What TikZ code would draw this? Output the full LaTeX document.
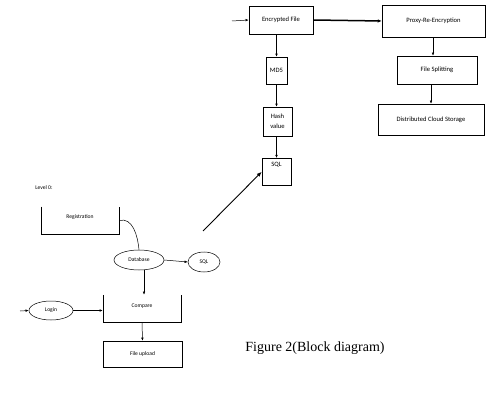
\documentclass[tikz,border=0pt]{standalone}
\usepackage{fontspec}
\setmainfont{Carlito}
\newfontfamily\captionfont{Liberation Serif}
\usetikzlibrary{arrows.meta,shapes.geometric,calc}

\tikzset{
	blockbox/.style={draw, inner sep=0pt, font=\fontsize{6.6}{7.6}\selectfont, align=center},
	openbox/.style={inner sep=0pt, font=\fontsize{5.6}{6.6}\selectfont},
	oval/.style={draw, ellipse, inner sep=0pt, font=\fontsize{5.6}{6.6}\selectfont},
	>={Latex[length=3.2pt,width=2.6pt]}
}

\begin{document}
\begin{tikzpicture}[x=1pt,y=-1pt,line width=0.5pt]
		\useasboundingbox (0,0) rectangle (486,419);
		% upper chain
		\node[blockbox, minimum width=64, minimum height=28] (enc) at (281,20) {Encrypted File};
		\node[blockbox, minimum width=103, minimum height=32] (proxy) at (433.5,21) {Proxy-Re-Encryption};
		\node[blockbox, minimum width=80, minimum height=28] (split) at (437,70) {File Splitting};
		\node[blockbox, minimum width=106, minimum height=31] (cloud) at (431,119.5) {Distributed Cloud Storage};
		\node[blockbox, minimum width=21, minimum height=27] (md5) at (276.5,70.5) {MD5};
		\node[blockbox, minimum width=29, minimum height=29] (hash) at (277.5,121.5) {Hash\\[2pt]value};
		\node[blockbox, minimum width=29, minimum height=27, anchor=north] (sqlbox) at (276.5,158) {SQL\\[8pt]};
		\coordinate (encin) at (232,21);
		% level 0
		\node[openbox, anchor=west] (level) at (35,188) {Level 0:};
		\node[openbox, minimum width=78, minimum height=27, text depth=8pt] (reg) at (80,220.5) {Registration};
		\draw (reg.north west) -- (reg.south west) -- (reg.south east) -- (reg.north east);
		\node[oval, minimum width=50, minimum height=20] (db) at (139,260) {Database};
		\node[oval, minimum width=32, minimum height=20] (sqloval) at (204,262) {SQL};
		\node[openbox, minimum width=78, minimum height=27, text depth=6pt] (cmp) at (142,308.5) {Compare};
		\draw (cmp.north west) -- (cmp.south west) -- (cmp.south east) -- (cmp.north east);
		\node[blockbox, font=\fontsize{5.6}{6.6}\selectfont, minimum width=79, minimum height=26] (upload) at (142.5,354) {File upload};
		\node[oval, minimum width=44, minimum height=19] (login) at (51,310.5) {Login};
		\coordinate (loginin) at (20,311);
		\coordinate (dbout) at (203,231);
		\node[font=\captionfont\fontsize{14}{16}\selectfont] (cap) at (315,348) {Figure 2(Block diagram)};
		% connectors
		\draw[->] (encin) -- (enc.west);
		\draw[-{Latex[length=4pt,width=3.5pt]}, line width=1.5pt] (enc.east) -- (proxy.west);
		\draw[->] ($(proxy.south -| split.north)+(-4,0)$) -- ($(split.north)+(-4,0)$);
		\draw[->] (split.south -| cloud.north) -- (cloud.north);
		\draw[->] (md5.north |- enc.south) -- (md5.north);
		\draw[->] (md5.south) -- (md5.south |- hash.north);
		\draw[->] (hash.south -| sqlbox.north) -- (sqlbox.north);
		\draw[-{Latex[length=5pt,width=4pt]}, line width=0.9pt] (dbout) -- (sqlbox.west);
		\draw (reg.east) to[out=15,in=95] (db.north);
		\draw[->] (db.east) -- (sqloval.west);
		\draw[->] ($(db.south -| cmp.north)+(2,0)$) -- ($(cmp.north)+(2,0)$);
		\draw[->] (cmp.south) -- (upload.north);
		\draw[->] (loginin) -- (login.west);
		\draw[->] (login.east) -- (login.east -| cmp.west);
\end{tikzpicture}
\end{document}
